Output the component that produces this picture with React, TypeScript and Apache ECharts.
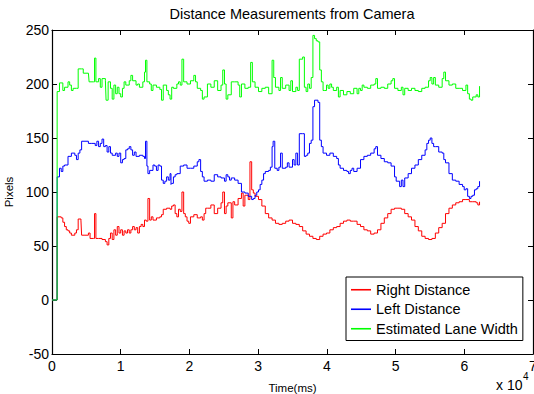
import React, { useEffect, useRef } from "react";
import * as echarts from "echarts";

const chartTitle = "Distance Measurements from Camera";
const seriesNames = ["Right Distance", "Left Distance", "Estimated Lane Width"];
const seriesColors = ["#ff0000", "#0000ff", "#00ff00"];
const yTicks = { min: -50, max: 250, interval: 50 };
const xTicks = { min: 0, max: 70000, interval: 10000 };

const laneWidth: number[][] = [
  [0,0],[740,0],[750,193],[1090,201],[1580,194],[1830,197],[2330,202],[2570,199],[2820,194],[3070,196],[3560,196],[3810,214],[4310,214],[4550,210],[5300,210],[5400,202],[6040,202],[6190,224],[6390,202],[6780,205],[7030,197],[7280,205],[7770,203],[7870,185],[8170,202],[8510,196],[8760,186],[9010,199],[9260,191],[9500,197],[9750,191],[10000,188],[10250,196],[10490,202],[10740,199],[11240,203],[11480,208],[11730,203],[12230,199],[12470,200],[12720,197],[13220,202],[13460,211],[13610,222],[13810,202],[14210,200],[14450,194],[14700,199],[15200,197],[15690,195],[15940,185],[16190,199],[16680,194],[16930,190],[17180,186],[17420,197],[17670,196],[18170,200],[18410,202],[18660,199],[18910,223],[19160,202],[19650,200],[20150,203],[20640,208],[20890,202],[21140,196],[21630,194],[21880,186],[22130,188],[22620,200],[23120,197],[23610,203],[24110,194],[24600,199],[24850,213],[25100,200],[25340,186],[25590,190],[26090,202],[26580,202],[27080,199],[27320,188],[27570,200],[28070,196],[28560,197],[28910,220],[29160,202],[29550,197],[30050,193],[30540,196],[31040,197],[31530,191],[32030,222],[32270,206],[32520,197],[33020,194],[33260,206],[33510,196],[34010,199],[34500,194],[34750,203],[35000,193],[35490,197],[35740,194],[35990,223],[36480,225],[36730,197],[36980,193],[37220,200],[37470,196],[37720,206],[37970,245],[38210,242],[38460,240],[38710,239],[38960,213],[39200,202],[39450,194],[39700,194],[39950,199],[40190,196],[40440,200],[40690,197],[40940,194],[41430,197],[41680,188],[41930,194],[42420,190],[42920,193],[43410,191],[43910,196],[44400,191],[44650,196],[44900,194],[45140,199],[45390,197],[45890,196],[46380,199],[46880,200],[47120,205],[47370,196],[47870,197],[48360,196],[48860,200],[49350,203],[49600,205],[49850,196],[50340,194],[50840,197],[51080,190],[51330,196],[51830,194],[52320,196],[52820,194],[53310,193],[53810,196],[54300,197],[54800,203],[55040,206],[55290,200],[55540,206],[55790,199],[56280,197],[56780,205],[57020,211],[57270,203],[57770,199],[58260,200],[58760,196],[59250,196],[59750,194],[60240,199],[60490,191],[60740,186],[60980,185],[61230,188],[61730,190],[61970,188],[62220,198]
];

const leftDistance: number[][] = [
  [0,0],[740,0],[750,114],[1090,122],[1340,119],[1580,124],[1830,125],[2330,133],[2820,136],[3320,134],[3560,130],[3810,136],[4060,139],[4310,147],[4800,147],[5300,145],[5790,145],[6290,143],[6530,147],[6780,142],[7030,145],[7280,149],[7520,142],[7770,143],[8020,137],[8270,142],[8510,136],[8760,134],[9260,136],[9500,133],[9750,136],[10000,127],[10250,130],[10490,131],[10740,139],[10990,140],[11240,142],[11480,139],[11730,134],[11980,137],[12230,133],[12720,134],[13220,133],[13460,131],[13610,147],[13810,124],[13960,117],[14210,120],[14700,125],[14950,124],[15200,120],[15440,125],[15690,124],[15940,111],[16190,108],[16430,110],[16680,114],[16930,111],[17180,117],[17320,107],[17420,108],[17670,114],[17920,116],[18170,117],[18660,124],[19160,125],[19650,122],[20150,122],[20640,124],[21140,128],[21380,130],[21630,119],[21880,114],[22130,110],[22620,111],[23120,110],[23610,116],[24110,114],[24600,113],[25100,110],[25340,116],[25590,114],[25840,111],[26090,113],[26580,111],[27080,108],[27570,100],[28070,99],[28560,96],[29060,93],[29300,94],[29550,97],[29800,100],[30050,102],[30290,107],[30540,111],[30790,117],[31040,119],[31530,120],[31780,123],[32030,142],[32180,147],[32420,122],[32770,120],[33020,123],[33260,136],[33510,122],[34010,123],[34250,127],[34500,123],[35000,130],[35240,125],[35490,136],[35740,125],[35990,154],[36480,154],[36730,133],[36980,134],[37220,136],[37470,145],[37720,148],[37970,179],[38210,185],[38710,183],[38960,148],[39200,142],[39450,136],[39950,134],[40440,136],[40940,133],[41430,131],[41680,125],[41930,122],[42420,120],[42920,119],[43160,117],[43410,120],[43660,122],[43910,119],[44400,122],[44900,130],[45390,133],[45890,134],[46380,136],[46880,140],[47120,142],[47370,134],[47870,131],[48360,128],[48860,127],[49350,124],[49850,114],[50090,110],[50340,110],[50590,105],[50840,111],[51080,105],[51330,113],[51830,117],[52320,122],[52820,125],[53310,130],[53810,134],[54300,139],[54550,145],[54800,148],[55040,150],[55290,145],[55540,142],[55790,142],[56280,137],[56780,136],[57020,130],[57270,127],[57770,117],[58260,111],[58760,110],[59250,107],[59750,105],[59990,102],[60240,103],[60490,96],[60740,94],[60980,96],[61230,97],[61480,102],[61730,103],[61970,105],[62220,110]
];

const rightDistance: number[][] = [
  [0,0],[740,0],[750,77],[1340,76],[1580,72],[1830,68],[2080,65],[2330,64],[2570,62],[2820,60],[3320,62],[3560,65],[3810,75],[4210,74],[4310,60],[4800,60],[5300,62],[5540,57],[6040,57],[6190,80],[6390,57],[6780,57],[7280,56],[7770,54],[8020,51],[8270,57],[8510,62],[8760,56],[9010,65],[9260,60],[9500,68],[9750,62],[10000,65],[10250,60],[10490,64],[10740,62],[10990,65],[11240,62],[11480,65],[11730,68],[11980,65],[12230,67],[12470,62],[12720,68],[12970,70],[13220,68],[13460,74],[13710,73],[13960,94],[14210,74],[14450,77],[14700,74],[15200,76],[15690,77],[15940,79],[16190,84],[16680,85],[17180,84],[17420,87],[17670,88],[17920,80],[18170,77],[18410,84],[18660,82],[18910,100],[19160,80],[19400,77],[19650,73],[19900,71],[20150,77],[20640,79],[21140,76],[21630,77],[21880,74],[22130,80],[22370,85],[22620,85],[23120,88],[23610,80],[24110,85],[24600,90],[24850,100],[25100,80],[25340,87],[25590,90],[26090,76],[26330,91],[26580,88],[27080,94],[27570,99],[27820,87],[28070,97],[28560,93],[28810,128],[29060,102],[29300,99],[29550,96],[30050,93],[30540,87],[31040,80],[31530,76],[32030,74],[32520,71],[33020,70],[33510,71],[34010,73],[34500,74],[35000,71],[35490,70],[35990,68],[36480,64],[36980,61],[37470,59],[37970,57],[38460,56],[38960,59],[39450,61],[39950,62],[40440,65],[40940,67],[41430,68],[41930,71],[42420,73],[42920,74],[43410,73],[43910,73],[44400,70],[44900,68],[45390,65],[45890,64],[46380,61],[46880,62],[47370,65],[47870,71],[48360,76],[48860,80],[49350,84],[49850,85],[50340,85],[50840,84],[51330,80],[51830,77],[52320,74],[52820,68],[53310,64],[53810,59],[54300,57],[54800,56],[55290,57],[55790,62],[56280,67],[56780,71],[57270,80],[57770,85],[58260,88],[58760,90],[59250,91],[59750,93],[60240,93],[60740,91],[61230,91],[61730,90],[61970,88],[62220,91]
];

const FONT = "Arial, 'Liberation Sans', Helvetica, sans-serif";

export default function App() {
  const ref = useRef<HTMLDivElement>(null);
  useEffect(() => {
    document.body.style.margin = "0";
    if (!ref.current) return;
    const chart = echarts.init(ref.current, undefined, { renderer: "svg" });
    const axisLineStyle = { lineStyle: { color: "#000", width: 1.2 } };
    const tick = { show: true, inside: true, length: 5, lineStyle: { color: "#000", width: 1 } };
    const dataSets = [rightDistance, leftDistance, laneWidth];
    chart.setOption({
      animation: false,
      backgroundColor: "#fff",
      textStyle: { fontFamily: FONT },
      title: {
        text: chartTitle,
        left: 292,
        textAlign: "center",
        top: 6,
        padding: 0,
        textStyle: { fontSize: 14.5, fontWeight: "normal", color: "#000", fontFamily: FONT },
      },
      grid: {
        left: 52,
        right: 1,
        top: 30,
        bottom: 40,
        containLabel: false,
        outerBoundsMode: "none",
      },
      legend: {
        show: true,
        orient: "vertical",
        left: 346,
        top: 277,
        padding: [5, 5, 4, 5],
        icon: "rect",
        itemWidth: 20,
        itemHeight: 1.6,
        itemGap: 4,
        borderColor: "#000",
        borderWidth: 1,
        backgroundColor: "#fff",
        data: seriesNames,
        textStyle: { fontSize: 14.5, lineHeight: 15.5, color: "#000", fontFamily: FONT },
      },
      xAxis: [
        {
          type: "value",
          min: xTicks.min,
          max: xTicks.max,
          interval: xTicks.interval,
          position: "bottom",
          name: "Time(ms)",
          nameLocation: "middle",
          nameGap: 28,
          nameTextStyle: { fontSize: 11.5, color: "#000", fontFamily: FONT },
          axisLine: { show: true, onZero: false, ...axisLineStyle },
          axisTick: tick,
          splitLine: { show: false },
          axisLabel: {
            color: "#000",
            fontSize: 14,
            margin: 5,
            fontFamily: FONT,
            formatter: (v: number) => String(v / 10000),
          },
        },
        {
          type: "value",
          min: xTicks.min,
          max: xTicks.max,
          interval: xTicks.interval,
          position: "top",
          axisLine: { show: true, onZero: false, ...axisLineStyle },
          axisTick: tick,
          splitLine: { show: false },
          axisLabel: { show: false },
        },
      ],
      yAxis: [
        {
          type: "value",
          min: yTicks.min,
          max: yTicks.max,
          interval: yTicks.interval,
          position: "left",
          name: "Pixels",
          nameLocation: "middle",
          nameGap: 32,
          nameTextStyle: { fontSize: 11.5, color: "#000", fontFamily: FONT },
          axisLine: { show: true, onZero: false, ...axisLineStyle },
          axisTick: tick,
          splitLine: { show: false },
          axisLabel: { color: "#000", fontSize: 14, margin: 3, fontFamily: FONT },
        },
        {
          type: "value",
          min: yTicks.min,
          max: yTicks.max,
          interval: yTicks.interval,
          position: "right",
          axisLine: { show: true, onZero: false, ...axisLineStyle },
          axisTick: tick,
          splitLine: { show: false },
          axisLabel: { show: false },
        },
      ],
      series: seriesNames.map((name, i) => ({
        name,
        type: "line",
        xAxisIndex: 0,
        yAxisIndex: 0,
        step: "end",
        symbol: "none",
        showSymbol: false,
        data: dataSets[i],
        color: seriesColors[i],
        itemStyle: { color: seriesColors[i] },
        lineStyle: { color: seriesColors[i], width: 1 },
        z: 2 + i,
      })),
      graphic: [
        {
          type: "text",
          left: 496,
          top: 378,
          style: { text: "x 10", fontSize: 14, fill: "#000", fontFamily: FONT },
        },
        {
          type: "text",
          left: 523,
          top: 371,
          style: { text: "4", fontSize: 10, fill: "#000", fontFamily: FONT },
        },
      ],
    });
    return () => chart.dispose();
  }, []);
  return <div ref={ref} style={{ width: 534, height: 394 }} />;
}
